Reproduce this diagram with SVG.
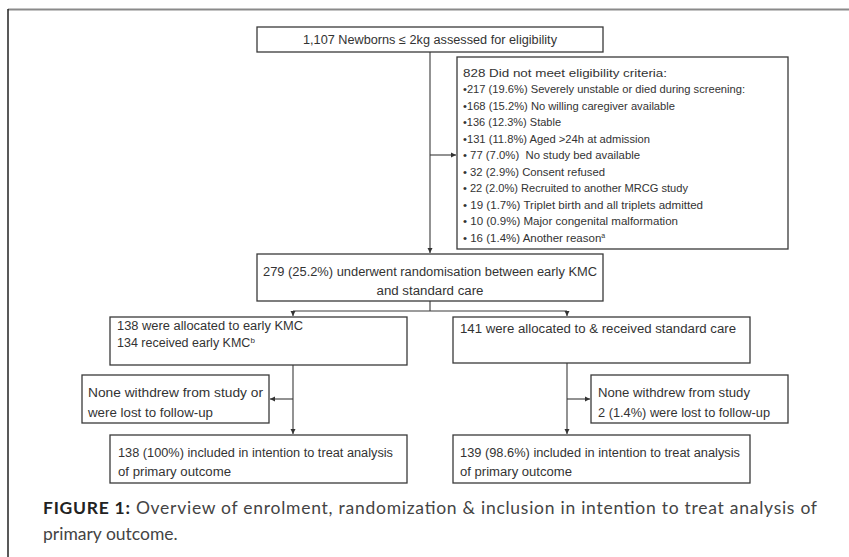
<svg xmlns="http://www.w3.org/2000/svg" width="849" height="557" viewBox="0 0 849 557">
<style>
.box{fill:#fff;stroke:#3a3a3a;stroke-width:1.3}
.t{font-family:"Liberation Sans",Arial,sans-serif;font-size:12.5px;fill:#333}
.s{font-family:"Liberation Sans",Arial,sans-serif;font-size:11.5px;fill:#333}
.c{stroke:#3a3a3a;stroke-width:1.1;fill:none}
.cap{font-family:Lato,"Open Sans",sans-serif;font-size:17.5px;fill:#444}
</style>
<defs>
<marker id="ah" markerWidth="6" markerHeight="6" refX="5" refY="3" orient="auto" markerUnits="userSpaceOnUse">
<path d="M0,0.5 L5,3 L0,5.5 Z" fill="#333"/>
</marker>
</defs>
<rect width="849" height="557" fill="#fff"/>
<line x1="8" y1="9.5" x2="849" y2="9.5" stroke="#8a8a8a" stroke-width="2.2"/>
<line x1="8" y1="9" x2="8" y2="557" stroke="#222" stroke-width="1.5"/>

<g id="connectors">
<path class="c" d="M430,52 V253" marker-end="url(#ah)"/>
<path class="c" d="M430,155 H456" marker-end="url(#ah)"/>
<path class="c" d="M430,301 V311 M293,311 H567"/>
<path class="c" d="M293,311 V316" marker-end="url(#ah)"/>
<path class="c" d="M567,311 V316" marker-end="url(#ah)"/>
<path class="c" d="M293,365 V434" marker-end="url(#ah)"/>
<path class="c" d="M293,399 H270" marker-end="url(#ah)"/>
<path class="c" d="M567,363 V434" marker-end="url(#ah)"/>
<path class="c" d="M567,399 H590" marker-end="url(#ah)"/>
</g>

<g id="assessed">
<rect class="box" x="257" y="27" width="346" height="25"/>
<text class="t" x="430" y="44" text-anchor="middle" textLength="254" lengthAdjust="spacingAndGlyphs">1,107 Newborns ≤ 2kg assessed for eligibility</text>
</g>

<g id="excluded">
<rect class="box" x="457" y="57" width="331" height="192"/>
<text class="s" x="463" y="76.5" textLength="204" lengthAdjust="spacingAndGlyphs">828 Did not meet eligibility criteria:</text>
<text class="s" x="463" y="93" textLength="282" lengthAdjust="spacingAndGlyphs">•217 (19.6%) Severely unstable or died during screening:</text>
<text class="s" x="463" y="109.5" textLength="212" lengthAdjust="spacingAndGlyphs">•168 (15.2%) No willing caregiver available</text>
<text class="s" x="463" y="126" textLength="98" lengthAdjust="spacingAndGlyphs">•136 (12.3%) Stable</text>
<text class="s" x="463" y="142.5" textLength="187" lengthAdjust="spacingAndGlyphs">•131 (11.8%) Aged &gt;24h at admission</text>
<text class="s" x="463" y="159" textLength="177" lengthAdjust="spacingAndGlyphs" xml:space="preserve">• 77 (7.0%)  No study bed available</text>
<text class="s" x="463" y="175.5" textLength="142" lengthAdjust="spacingAndGlyphs">• 32 (2.9%) Consent refused</text>
<text class="s" x="463" y="192" textLength="225" lengthAdjust="spacingAndGlyphs">• 22 (2.0%) Recruited to another MRCG study</text>
<text class="s" x="463" y="208.5" textLength="240" lengthAdjust="spacingAndGlyphs">• 19 (1.7%) Triplet birth and all triplets admitted</text>
<text class="s" x="463" y="225" textLength="215" lengthAdjust="spacingAndGlyphs">• 10 (0.9%) Major congenital malformation</text>
<text class="s" x="463" y="241.5">• 16 (1.4%) Another reason<tspan font-size="7" dy="-4">a</tspan></text>
</g>

<g id="randomised">
<rect class="box" x="257" y="254" width="346" height="47"/>
<text class="t" x="430" y="276" text-anchor="middle" textLength="334" lengthAdjust="spacingAndGlyphs">279 (25.2%) underwent randomisation between early KMC</text>
<text class="t" x="430" y="295" text-anchor="middle" textLength="107" lengthAdjust="spacingAndGlyphs">and standard care</text>
</g>

<g id="early-kmc">
<rect class="box" x="110" y="317" width="297" height="48"/>
<text class="t" x="117" y="330" textLength="186" lengthAdjust="spacingAndGlyphs">138 were allocated to early KMC</text>
<text class="t" x="117" y="347">134 received early KMC<tspan font-size="8" dy="-4">b</tspan></text>
</g>

<g id="standard-care">
<rect class="box" x="453" y="317" width="297" height="46"/>
<text class="t" x="460" y="333" textLength="276" lengthAdjust="spacingAndGlyphs">141 were allocated to &amp; received standard care</text>
</g>

<g id="early-lost">
<rect class="box" x="82" y="375" width="187" height="48"/>
<text class="t" x="88" y="397" textLength="175" lengthAdjust="spacingAndGlyphs">None withdrew from study or</text>
<text class="t" x="88" y="417" textLength="125" lengthAdjust="spacingAndGlyphs">were lost to follow-up</text>
</g>

<g id="standard-lost">
<rect class="box" x="591" y="375" width="197" height="48"/>
<text class="t" x="598" y="397" textLength="152" lengthAdjust="spacingAndGlyphs">None withdrew from study</text>
<text class="t" x="598" y="417" textLength="172" lengthAdjust="spacingAndGlyphs">2 (1.4%) were lost to follow-up</text>
</g>

<g id="early-itt">
<rect class="box" x="110" y="435" width="297" height="48"/>
<text class="t" x="118" y="457" textLength="275" lengthAdjust="spacingAndGlyphs">138 (100%) included in intention to treat analysis</text>
<text class="t" x="118" y="476" textLength="113" lengthAdjust="spacingAndGlyphs">of primary outcome</text>
</g>

<g id="standard-itt">
<rect class="box" x="453" y="435" width="297" height="48"/>
<text class="t" x="460" y="457" textLength="280" lengthAdjust="spacingAndGlyphs">139 (98.6%) included in intention to treat analysis</text>
<text class="t" x="460" y="476" textLength="112" lengthAdjust="spacingAndGlyphs">of primary outcome</text>
</g>

<g id="caption">
<text class="cap" x="43" y="514" textLength="774"><tspan font-weight="bold" fill="#222">FIGURE 1:</tspan> Overview of enrolment, randomization &amp; inclusion in intention to treat analysis of</text>
<text class="cap" x="43" y="540">primary outcome.</text>
</g>
</svg>
